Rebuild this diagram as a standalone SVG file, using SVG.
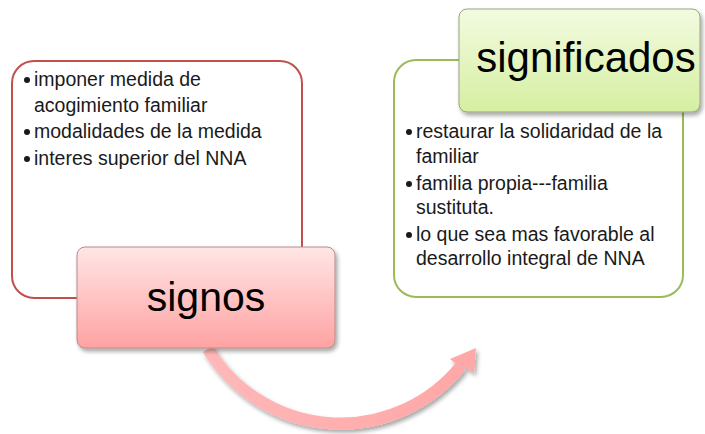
<svg xmlns="http://www.w3.org/2000/svg" width="705" height="434" viewBox="0 0 705 434">
<defs>
  <linearGradient id="gPink" x1="0" y1="0" x2="0" y2="1">
    <stop offset="0" stop-color="#ffe6e6"/>
    <stop offset="1" stop-color="#ffa2a2"/>
  </linearGradient>
  <linearGradient id="gGreen" x1="0" y1="0" x2="0" y2="1">
    <stop offset="0" stop-color="#f3fbe1"/>
    <stop offset="1" stop-color="#d5efa0"/>
  </linearGradient>
  <linearGradient id="gArrow" gradientUnits="userSpaceOnUse" x1="200" y1="0" x2="480" y2="0">
    <stop offset="0" stop-color="#ffb8b8"/>
    <stop offset="1" stop-color="#ffa6a6"/>
  </linearGradient>
  <filter id="shadow" x="-10%" y="-10%" width="130%" height="140%">
    <feDropShadow dx="2" dy="3" stdDeviation="2" flood-color="#000" flood-opacity="0.35"/>
  </filter>
</defs>
<style>
  .txt { font-family: "Liberation Sans", Arial, sans-serif; font-size: 19.5px; fill: #1a1a1a; }
  .big { font-family: "Liberation Sans", Arial, sans-serif; fill: #000; text-anchor: middle; }
  .bul { fill: #1a1a1a; }
</style>

<g id="signos-content">
  <rect x="12" y="61" width="290" height="237" rx="22" ry="22" fill="#fff" stroke="#c0504d" stroke-width="2"/>
  <circle class="bul" cx="27" cy="80" r="3"/>
  <circle class="bul" cx="27" cy="132" r="3"/>
  <circle class="bul" cx="27" cy="159" r="3"/>
  <text class="txt" x="34" y="86">imponer medida de</text>
  <text class="txt" x="34" y="112">acogimiento familiar</text>
  <text class="txt" x="34" y="138">modalidades de la medida</text>
  <text class="txt" x="34" y="165">interes superior del NNA</text>
</g>

<g id="significados-content">
  <rect x="394" y="60" width="289" height="237" rx="22" ry="22" fill="#fff" stroke="#9bbb59" stroke-width="2"/>
  <circle class="bul" cx="409" cy="132" r="3"/>
  <circle class="bul" cx="409" cy="184" r="3"/>
  <circle class="bul" cx="409" cy="235" r="3"/>
  <text class="txt" x="416" y="138">restaurar la solidaridad de la</text>
  <text class="txt" x="416" y="163">familiar</text>
  <text class="txt" x="416" y="190">familia propia---familia</text>
  <text class="txt" x="416" y="214">sustituta.</text>
  <text class="txt" x="416" y="241">lo que sea mas favorable al</text>
  <text class="txt" x="416" y="265">desarrollo integral de NNA</text>
</g>

<g id="connectors">
  <g filter="url(#shadow)">
    <path d="M208,349 A155,155 0 0 0 461,366" fill="none" stroke="url(#gArrow)" stroke-width="12"/>
    <polygon points="455,363 450,359 476,348 474,373 468,369" fill="#ffa8a8"/>
  </g>
</g>

<g id="signos">
  <rect x="77" y="247" width="258" height="101" rx="8" ry="8" fill="url(#gPink)" stroke="#b88a8a" stroke-width="1" filter="url(#shadow)"/>
  <text class="big" x="206" y="311" font-size="41">signos</text>
</g>

<g id="significados">
  <rect x="459" y="9" width="241" height="103" rx="8" ry="8" fill="url(#gGreen)" stroke="#98a383" stroke-width="1" filter="url(#shadow)"/>
  <text class="big" x="586" y="72" font-size="42">significados</text>
</g>
</svg>
